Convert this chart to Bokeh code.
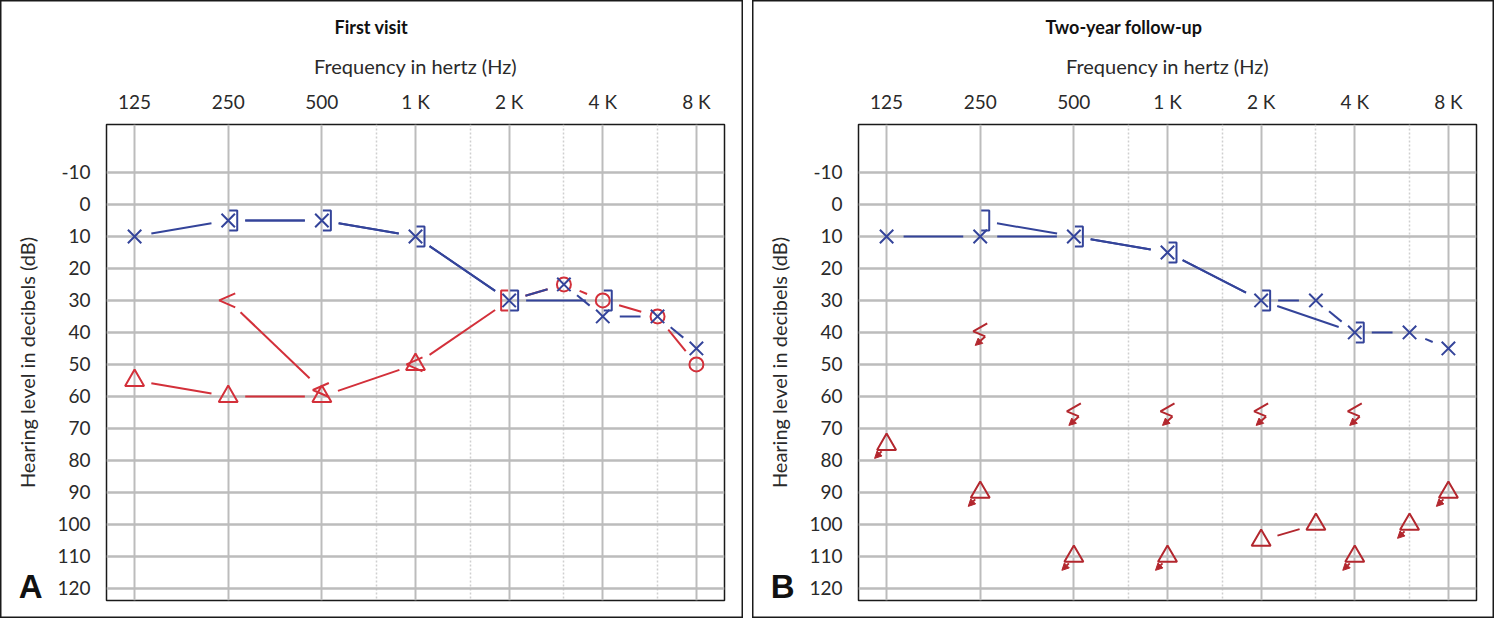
import math
from bokeh.plotting import figure
from bokeh.models import (Range1d, FixedTicker, LinearAxis, Arrow,
                          NormalHead, ColumnDataSource)
from bokeh.layouts import row
from bokeh.embed import file_html
from bokeh.resources import INLINE

# ---------------- data ----------------
tick_freqs = [125, 250, 500, 1000, 2000, 4000, 8000]
tick_labels = ["125", "250", "500", "1 K", "2 K", "4 K", "8 K"]
half_octave_freqs = [750, 1500, 3000, 6000]
db_ticks = [-10, 0, 10, 20, 30, 40, 50, 60, 70, 80, 90, 100, 110, 120]
db_labels = ["-10", "0", "10", "20", "30", "40", "50", "60", "70", "80", "90", "100", "110", "120"]

# Panel A - first visit
a_left_ac_f = [125, 250, 500, 1000, 2000, 3000, 4000, 6000, 8000]      # blue X
a_left_ac_db = [10, 5, 5, 10, 30, 25, 35, 35, 45]
a_left_bc_f = [250, 500, 1000, 2000, 4000]                               # blue ]
a_left_bc_db = [5, 5, 10, 30, 30]
a_right_ac_masked_f = [125, 250, 500, 1000]                              # red triangle
a_right_ac_masked_db = [55, 60, 60, 50]
a_right_bc_masked_f = [2000]                                             # red [
a_right_bc_masked_db = [30]
a_right_ac_f = [3000, 4000, 6000, 8000]                                  # red O
a_right_ac_db = [25, 30, 35, 50]
a_right_bc_f = [250, 500, 1000]                                          # red <
a_right_bc_db = [30, 58, 50]
a_right_path_f = [125, 250, 500, 1000, 2000, 3000, 4000, 6000, 8000]     # red connecting line
a_right_path_db = [55, 60, 60, 50, 30, 25, 30, 35, 50]
a_right_bc_path_f = [250, 500]
a_right_bc_path_db = [30, 58]

# Panel B - two-year follow-up
b_left_ac_f = [125, 250, 500, 1000, 2000, 3000, 4000, 6000, 8000]      # blue X
b_left_ac_db = [10, 10, 10, 15, 30, 30, 40, 40, 45]
b_left_bc_f = [250, 500, 1000, 2000, 4000]                               # blue ]
b_left_bc_db = [5, 10, 15, 30, 40]
b_right_bc_nr_f = [250, 500, 1000, 2000, 4000]                           # red bone, no response
b_right_bc_nr_db = [40, 65, 65, 65, 65]
b_right_ac_nr_f = [125, 250, 500, 1000, 4000, 6000, 8000]               # red triangle, no response
b_right_ac_nr_db = [75, 90, 110, 110, 110, 100, 90]
b_right_ac_f = [2000, 3000]                                              # red triangle
b_right_ac_db = [105, 100]

# ---------------- styling ----------------
BLUE = "#34449a"
RED_A = "#d3303a"
RED_B = "#b3272e"
GRID = "#bcbcbc"
FONT = "Lato"

FRAME_W, FRAME_H = 618, 476
OCT_LO, OCT_HI = -0.3, 6.3
DB_TOP, DB_BOTTOM = -25.0, 123.8
PX_OCT = FRAME_W / (OCT_HI - OCT_LO)
PX_DB = FRAME_H / (DB_BOTTOM - DB_TOP)
LETTER_POS = 119.4   # vertical position (axis units) of the panel letter


def shift(f, db, dx, dy):
    return f * 2 ** (dx / PX_OCT), db + dy / PX_DB


def gapped(fs, dbs, gap=17):
    xs, ys = [], []
    for i in range(len(fs) - 1):
        x0, y0 = math.log2(fs[i]) * PX_OCT, dbs[i] * PX_DB
        x1, y1 = math.log2(fs[i + 1]) * PX_OCT, dbs[i + 1] * PX_DB
        L = math.hypot(x1 - x0, y1 - y0)
        if L <= 2 * gap + 2:
            continue
        ux, uy = (x1 - x0) / L, (y1 - y0) / L
        xa, ya = x0 + ux * gap, y0 + uy * gap
        xb, yb = x1 - ux * gap, y1 - uy * gap
        xs.append([2 ** (xa / PX_OCT), 2 ** (xb / PX_OCT)])
        ys.append([ya / PX_DB, yb / PX_DB])
    return xs, ys


def paths(fs, dbs, rel):
    xs, ys = [], []
    for f, d in zip(fs, dbs):
        pts = [shift(f, d, dx, dy) for dx, dy in rel]
        xs.append([p[0] for p in pts])
        ys.append([p[1] for p in pts])
    return xs, ys


def arrows(p, fs, dbs, start, end, color):
    s = [shift(f, d, *start) for f, d in zip(fs, dbs)]
    e = [shift(f, d, *end) for f, d in zip(fs, dbs)]
    src = ColumnDataSource(dict(xs=[a[0] for a in s], ys=[a[1] for a in s],
                                xe=[a[0] for a in e], ye=[a[1] for a in e]))
    p.add_layout(Arrow(end=NormalHead(size=7, fill_color=color, line_color=color, line_width=1),
                       x_start="xs", y_start="ys", x_end="xe", y_end="ye", source=src,
                       line_color=color, line_width=2))


def make_panel(title, letter, min_left, min_right, title_offset):
    p = figure(x_axis_type="log",
               x_range=Range1d(125 * 2 ** OCT_LO, 125 * 2 ** OCT_HI),
               y_range=Range1d(DB_BOTTOM, DB_TOP),
               frame_width=FRAME_W, frame_height=FRAME_H,
               min_border_left=min_left, min_border_right=min_right,
               min_border_top=124, min_border_bottom=18,
               x_axis_location="above", output_backend="svg",
               toolbar_location=None, tools="")
    p.background_fill_color = "white"
    p.border_fill_color = None
    p.outline_line_color = "#1a1a1a"
    p.outline_line_width = 1.5
    p.styles = {"box-shadow": "inset 0 0 0 1.5px #1a1a1a", "background-color": "white"}

    xt = FixedTicker(ticks=tick_freqs, minor_ticks=half_octave_freqs)
    p.xaxis.ticker = xt
    p.xgrid.ticker = xt
    p.xaxis.major_label_overrides = dict(zip(tick_freqs, tick_labels))
    yt = FixedTicker(ticks=db_ticks)
    p.yaxis.ticker = yt
    p.ygrid.ticker = yt
    p.yaxis.major_label_overrides = dict(zip(db_ticks, db_labels))

    for ax in (p.xaxis[0], p.yaxis[0]):
        ax.axis_line_color = None
        ax.major_tick_line_color = None
        ax.minor_tick_line_color = None
        ax.major_tick_out = 0
        ax.major_tick_in = 0
        ax.major_label_text_font = FONT
        ax.major_label_text_font_size = "19px"
        ax.major_label_text_color = "#2a2a2a"
        ax.axis_label_text_font = FONT
        ax.axis_label_text_font_size = "20px"
        ax.axis_label_text_font_style = "normal"
        ax.axis_label_text_color = "#2a2a2a"
    p.xaxis.axis_label = "Frequency in hertz (Hz)"
    p.xaxis.major_label_standoff = 8
    p.xaxis.axis_label_standoff = 9
    p.yaxis.major_label_standoff = 16

    # outer left axis: panel letter as its only label + the y-axis title
    la = LinearAxis(ticker=FixedTicker(ticks=[LETTER_POS]),
                    major_label_overrides={LETTER_POS: letter},
                    axis_label="Hearing level in decibels (dB)")
    la.axis_line_color = None
    la.major_tick_line_color = None
    la.minor_tick_line_color = None
    la.major_tick_out = 0
    la.major_tick_in = 0
    la.major_label_text_font = "Liberation Sans"
    la.major_label_text_font_size = "33px"
    la.major_label_text_font_style = "bold"
    la.major_label_text_color = "#111111"
    la.major_label_standoff = 12
    la.axis_label_text_font = FONT
    la.axis_label_text_font_size = "20px"
    la.axis_label_text_font_style = "normal"
    la.axis_label_text_color = "#2a2a2a"
    la.axis_label_standoff = -23
    p.add_layout(la, "left")

    p.xgrid.grid_line_color = GRID
    p.xgrid.grid_line_width = 2
    p.xgrid.minor_grid_line_color = "#cfcfcf"
    p.xgrid.minor_grid_line_width = 1.5
    p.xgrid.minor_grid_line_dash = "2 2"
    p.ygrid.grid_line_color = GRID
    p.ygrid.grid_line_width = 2.5

    p.title.text = title
    p.title.align = "left"
    p.title.offset = title_offset
    p.title.text_font = FONT
    p.title.text_font_size = "18px"
    p.title.text_font_style = "bold"
    p.title.text_color = "#111111"
    p.title.standoff = 25
    return p


LEFT_BR = [(1, -10), (9, -10), (9, 10), (1, 10)]
RIGHT_BR = [(-1, -10), (-8, -10), (-8, 10), (-1, 10)]
LESS = [(7, -7), (-9, 0), (7, 7)]
ZIG = [(7, -9), (-7, -1), (5, 4)]
X_SIZE = 19

# ---------------- panel A ----------------
pA = make_panel("First visit", "A", 106, 19, 228)

xs, ys = gapped(a_right_path_f, a_right_path_db)
pA.multi_line(xs, ys, line_color=RED_A, line_width=2)
xs, ys = gapped(a_right_bc_path_f, a_right_bc_path_db)
pA.multi_line(xs, ys, line_color=RED_A, line_width=2)
xs, ys = gapped(a_left_ac_f, a_left_ac_db)
pA.multi_line(xs, ys, line_color=BLUE, line_width=2)
xs, ys = gapped(a_left_bc_f, a_left_bc_db)
pA.multi_line(xs, ys, line_color=BLUE, line_width=2)

pA.scatter(a_right_ac_masked_f, a_right_ac_masked_db, marker="triangle", size=19,
           fill_color=None, line_color=RED_A, line_width=2)
pA.scatter(a_right_ac_f, a_right_ac_db, marker="circle", size=14,
           fill_color=None, line_color=RED_A, line_width=2)
xs, ys = paths(a_right_bc_masked_f, a_right_bc_masked_db, RIGHT_BR)
pA.multi_line(xs, ys, line_color=RED_A, line_width=2)
xs, ys = paths(a_right_bc_f, a_right_bc_db, LESS)
pA.multi_line(xs, ys, line_color=RED_A, line_width=2)
pA.scatter(a_left_ac_f, a_left_ac_db, marker="x", size=X_SIZE, line_color=BLUE, line_width=2)
xs, ys = paths(a_left_bc_f, a_left_bc_db, LEFT_BR)
pA.multi_line(xs, ys, line_color=BLUE, line_width=2)

# ---------------- panel B ----------------
pB = make_panel("Two-year follow-up", "B", 106, 18, 187)

xs, ys = gapped(b_left_ac_f, b_left_ac_db)
pB.multi_line(xs, ys, line_color=BLUE, line_width=2)
xs, ys = gapped(b_left_bc_f, b_left_bc_db)
pB.multi_line(xs, ys, line_color=BLUE, line_width=2)
xs, ys = gapped(b_right_ac_f, b_right_ac_db)
pB.multi_line(xs, ys, line_color=RED_B, line_width=2)

pB.scatter(b_left_ac_f, b_left_ac_db, marker="x", size=X_SIZE, line_color=BLUE, line_width=2)
xs, ys = paths(b_left_bc_f, b_left_bc_db, LEFT_BR)
pB.multi_line(xs, ys, line_color=BLUE, line_width=2)

xs, ys = paths(b_right_bc_nr_f, b_right_bc_nr_db, ZIG)
pB.multi_line(xs, ys, line_color=RED_B, line_width=2)
arrows(pB, b_right_bc_nr_f, b_right_bc_nr_db, (5, 4), (-5, 13), RED_B)

pB.scatter(b_right_ac_nr_f, b_right_ac_nr_db, marker="triangle", size=19,
           fill_color=None, line_color=RED_B, line_width=2)
arrows(pB, b_right_ac_nr_f, b_right_ac_nr_db, (-5, 7), (-12, 14), RED_B)
pB.scatter(b_right_ac_f, b_right_ac_db, marker="triangle", size=19,
           fill_color=None, line_color=RED_B, line_width=2)

layout = row(pA, pB, spacing=9)
open("out.html", "w").write(file_html(layout, INLINE))
